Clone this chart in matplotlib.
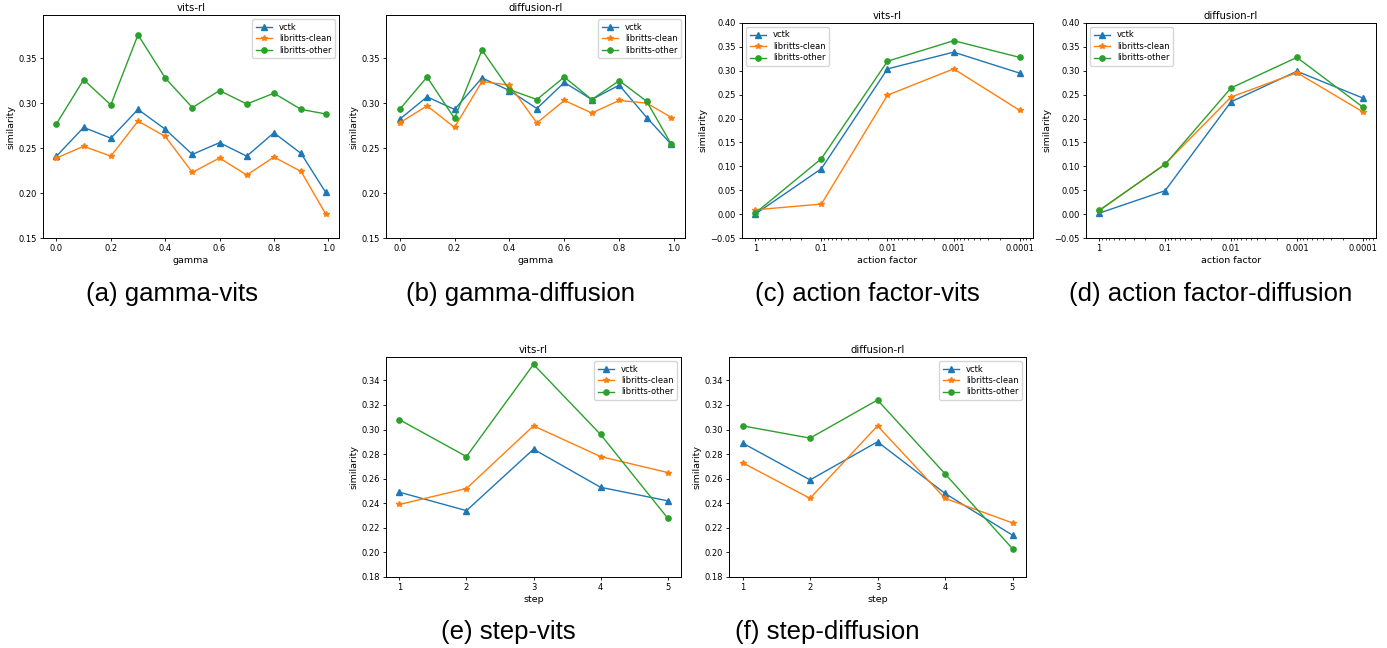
import matplotlib
matplotlib.use('Agg')
import matplotlib.pyplot as plt

series = ['vctk', 'libritts-clean', 'libritts-other']
markers = ['^', '*', 'o']
colors = ['#1f77b4', '#ff7f0e', '#2ca02c']

gamma = [0.0, 0.1, 0.2, 0.3, 0.4, 0.5, 0.6, 0.7, 0.8, 0.9, 0.99]
gamma_vits_vctk = [0.241, 0.273, 0.261, 0.293, 0.271, 0.243, 0.256, 0.241, 0.267, 0.244, 0.201]
gamma_vits_clean = [0.239, 0.252, 0.241, 0.280, 0.263, 0.223, 0.239, 0.220, 0.240, 0.224, 0.177]
gamma_vits_other = [0.277, 0.326, 0.298, 0.376, 0.328, 0.295, 0.314, 0.299, 0.311, 0.293, 0.288]
gamma_diff_vctk = [0.282, 0.307, 0.293, 0.328, 0.314, 0.294, 0.323, 0.304, 0.320, 0.284, 0.254]
gamma_diff_clean = [0.278, 0.297, 0.273, 0.324, 0.320, 0.278, 0.303, 0.289, 0.303, 0.300, 0.284]
gamma_diff_other = [0.293, 0.329, 0.283, 0.359, 0.315, 0.304, 0.329, 0.304, 0.325, 0.302, 0.254]

action = [1, 0.1, 0.01, 0.001, 0.0001]
action_labels = ['1', '0.1', '0.01', '0.001', '0.0001']
action_vits_vctk = [0.000, 0.095, 0.304, 0.339, 0.295]
action_vits_clean = [0.009, 0.021, 0.249, 0.304, 0.217]
action_vits_other = [0.002, 0.116, 0.320, 0.363, 0.328]
action_diff_vctk = [0.002, 0.049, 0.235, 0.299, 0.243]
action_diff_clean = [0.007, 0.105, 0.245, 0.296, 0.214]
action_diff_other = [0.008, 0.104, 0.264, 0.328, 0.224]

steps = [1, 2, 3, 4, 5]
step_vits_vctk = [0.249, 0.234, 0.284, 0.253, 0.242]
step_vits_clean = [0.239, 0.252, 0.303, 0.278, 0.265]
step_vits_other = [0.308, 0.278, 0.353, 0.296, 0.228]
step_diff_vctk = [0.289, 0.259, 0.290, 0.248, 0.214]
step_diff_clean = [0.273, 0.244, 0.303, 0.244, 0.224]
step_diff_other = [0.303, 0.293, 0.324, 0.264, 0.203]

W, H = 1387, 648
fig = plt.figure(figsize=(W / 100, H / 100), dpi=100)
fs = 6


def make_axes(x0, y0, x1, y1):
    # координаты в пикселях -> доли фигуры
    return fig.add_axes([x0 / W, 1 - y1 / H, (x1 - x0) / W, (y1 - y0) / H])


def draw(ax, x, ys, title, xlabel, ylim, loc):
    for y, m, c, name in zip(ys, markers, colors, series):
        ax.plot(x, y, marker=m, color=c, label=name, lw=1.0, ms=3.8 if m != '*' else 4.3)
    ax.set_title(title, fontsize=7.3, pad=3)
    ax.set_xlabel(xlabel, fontsize=6.8, labelpad=2)
    ax.set_ylabel('similarity', fontsize=6.8, labelpad=2)
    ax.set_ylim(*ylim)
    ax.tick_params(labelsize=fs, length=2.5, width=0.6, pad=2)
    ax.tick_params(which='minor', length=1.5, width=0.5)
    for s in ax.spines.values():
        s.set_linewidth(0.7)
    ax.legend(loc=loc, fontsize=fs, handlelength=2, borderpad=0.4, labelspacing=0.3)


ax = make_axes(43, 15, 339, 238)
draw(ax, gamma, [gamma_vits_vctk, gamma_vits_clean, gamma_vits_other], 'vits-rl', 'gamma', (0.15, 0.398), 'upper right')
ax = make_axes(386, 15, 685, 238)
draw(ax, gamma, [gamma_diff_vctk, gamma_diff_clean, gamma_diff_other], 'diffusion-rl', 'gamma', (0.15, 0.398), 'upper right')

for (x0, x1), ys, title in [((742, 1033), [action_vits_vctk, action_vits_clean, action_vits_other], 'vits-rl'),
                            ((1086, 1376), [action_diff_vctk, action_diff_clean, action_diff_other], 'diffusion-rl')]:
    ax = make_axes(x0, 23, x1, 238)
    ax.set_xscale('log')
    draw(ax, action, ys, title, 'action factor', (-0.05, 0.40), 'upper left')
    ax.invert_xaxis()
    ax.set_xticks(action)
    ax.set_xticklabels(action_labels)
    ax.xaxis.set_minor_formatter(matplotlib.ticker.NullFormatter())

ax = make_axes(386, 357, 681, 577)
draw(ax, steps, [step_vits_vctk, step_vits_clean, step_vits_other], 'vits-rl', 'step', (0.18, 0.359), 'upper right')
ax.set_xticks(steps)
ax = make_axes(729, 357, 1026, 577)
draw(ax, steps, [step_diff_vctk, step_diff_clean, step_diff_other], 'diffusion-rl', 'step', (0.18, 0.359), 'upper right')
ax.set_xticks(steps)

captions = [('(a) gamma-vits', 172, 294), ('(b) gamma-diffusion', 520, 294),
            ('(c) action factor-vits', 867, 294), ('(d) action factor-diffusion', 1211, 294),
            ('(e) step-vits', 508, 632), ('(f) step-diffusion', 827, 632)]
for txt, cx, cy in captions:
    fig.text(cx / W, 1 - cy / H, txt, ha='center', va='center', fontsize=18.5, family='Liberation Sans')

fig.savefig('out.png', dpi=100)
